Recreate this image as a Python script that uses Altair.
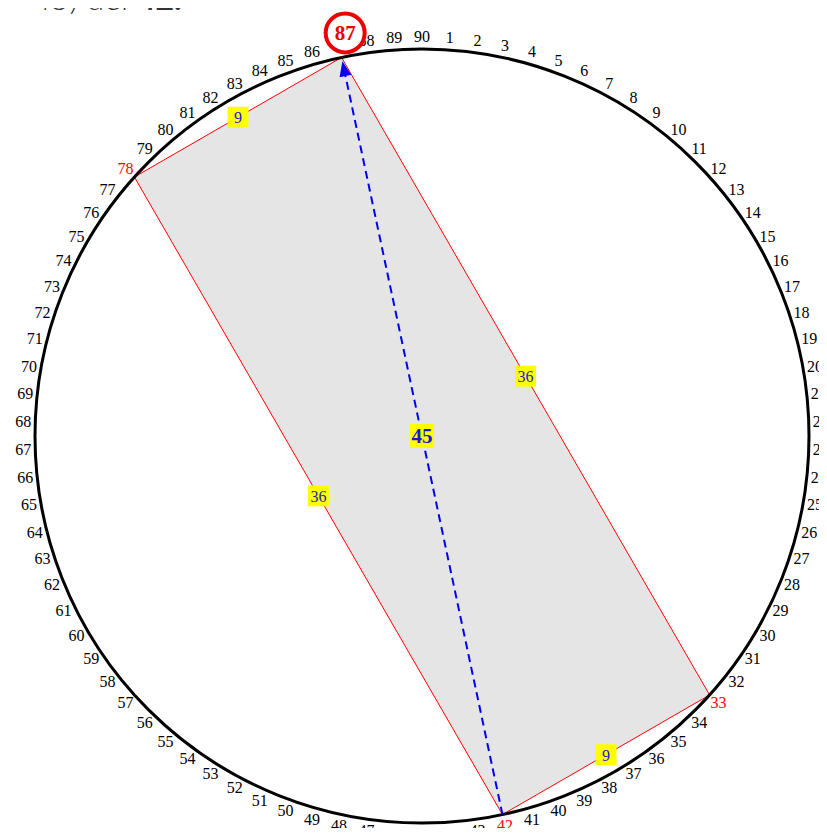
import math
import altair as alt
import pandas as pd

# ---------------- data ----------------
point_numbers = list(range(1, 91))          # numbers around the circle
red_points = [78, 33, 42]                    # numbers drawn in red
circled_point = 87                           # number inside the red ring
rect_vertices = [87, 33, 42, 78]             # grey rectangle corners (in order)
edge_from = [87, 87, 78, 42]
edge_to = [78, 33, 42, 33]
edge_values = ["9", "36", "36", "9"]
diag_from, diag_to = 42, 87
diag_value = "45"
caption_light = "+ 45) del"
caption_bold = "42."

# ---------------- geometry helpers ----------------
R = 387.0
N = len(point_numbers)


def pos(k, rad):
    a = math.radians((k - N) * 360.0 / N)
    return rad * math.sin(a), rad * math.cos(a)


XS = alt.Scale(domain=[-414, 397], nice=False, zero=False)
YS = alt.Scale(domain=[-392, 428], nice=False, zero=False)


def enc(**kw):
    return dict(x=alt.X("x:Q", scale=XS, axis=None), y=alt.Y("y:Q", scale=YS, axis=None), **kw)


# outer circle
circle_df = pd.DataFrame({"x": [0.0], "y": [0.0]})
circle = alt.Chart(circle_df).mark_point(
    shape="circle", size=(2 * R) ** 2, filled=False, stroke="black", strokeWidth=3, opacity=1
).encode(**enc())

# polygon
poly_rows = []
for i, k in enumerate(rect_vertices + [rect_vertices[0]]):
    x, y = pos(k, R)
    poly_rows.append({"x": x, "y": y, "o": i})
poly_df = pd.DataFrame(poly_rows)
poly_fill = alt.Chart(poly_df).mark_line(
    fill="#e5e5e5", stroke="#ff0000", strokeWidth=1
).encode(**enc(order="o:Q"))

# diagonal dashed line with arrow
x1, y1 = pos(diag_from, R)
x2, y2 = pos(diag_to, R - 14)
diag_df = pd.DataFrame({"x": [x1, x2], "y": [y1, y2], "o": [0, 1]})
diag = alt.Chart(diag_df).mark_line(
    stroke="#0000ee", strokeWidth=2, strokeDash=[8, 5]
).encode(**enc(order="o:Q"))
ax, ay = pos(diag_to, R - 11.5)
ang = ((diag_to - N) * 360.0 / N) % 360
arrow_df = pd.DataFrame({"x": [ax], "y": [ay]})
arrow = alt.Chart(arrow_df).mark_point(
    shape="M0,-1L0.8,1L-0.8,1Z", size=225, filled=True, fill="#0000ee", stroke=None,
    angle=ang, opacity=1
).encode(**enc())

# edge labels
edge_rows = []
for a, b, t in zip(edge_from, edge_to, edge_values):
    xa, ya = pos(a, R)
    xb, yb = pos(b, R)
    edge_rows.append({"x": (xa + xb) / 2, "y": (ya + yb) / 2, "t": t})
edge_df = pd.DataFrame(edge_rows)
edge_box = alt.Chart(edge_df).mark_point(
    shape="square", size=441, filled=True, fill="#ffff00", stroke=None, opacity=1
).encode(**enc())
edge_txt = alt.Chart(edge_df).mark_text(
    font="Liberation Serif", fontSize=16, color="#1a1acc", baseline="middle", align="center", dy=1
).encode(**enc(text="t:N"))

dx1, dy1 = pos(diag_from, R)
dx2, dy2 = pos(diag_to, R)
diag_lab_df = pd.DataFrame({"x": [(dx1 + dx2) / 2], "y": [(dy1 + dy2) / 2], "t": [diag_value]})
diag_box = alt.Chart(diag_lab_df).mark_point(
    shape="square", size=576, filled=True, fill="#ffff00", stroke=None, opacity=1
).encode(**enc())
diag_txt = alt.Chart(diag_lab_df).mark_text(
    font="Liberation Serif", fontSize=21, fontWeight="bold", color="#1a1acc",
    baseline="middle", align="center", dy=1
).encode(**enc(text="t:N"))

# number labels around circle
lab_rows = []
for k in point_numbers:
    if k == circled_point:
        continue
    x, y = pos(k, R + 12)
    lab_rows.append({"x": x, "y": y, "t": str(k), "c": "red" if k in red_points else "black"})
lab_df = pd.DataFrame(lab_rows)
labels = alt.Chart(lab_df).mark_text(
    font="Liberation Serif", fontSize=16, baseline="middle", align="center"
).encode(**enc(text="t:N", color=alt.Color("c:N", scale=None)))

# circled label
cx, cy = pos(circled_point, R + 21)
circ_df = pd.DataFrame({"x": [cx], "y": [cy], "t": [str(circled_point)]})
ring = alt.Chart(circ_df).mark_point(
    shape="circle", size=39 ** 2, filled=True, fill="white", stroke="#ee0000", strokeWidth=4, opacity=1,
    xOffset=8, yOffset=-4
).encode(**enc())
ring_txt = alt.Chart(circ_df).mark_text(
    font="Liberation Serif", fontSize=21, fontWeight="bold", color="#ee0000",
    baseline="middle", align="center", dx=8, dy=-3
).encode(**enc(text="t:N"))

# caption (clipped at top in the reference)
cap_df = pd.DataFrame({"x": [-294.0, -285.0], "y": [426.0, 426.0], "t": [caption_light, caption_bold]})
cap1 = alt.Chart(cap_df.iloc[[0]]).mark_text(
    font="Lato", fontSize=32, fontWeight=300, color="#333333", align="right", baseline="alphabetic"
).encode(**enc(text="t:N"))
cap2 = alt.Chart(cap_df.iloc[[1]]).mark_text(
    font="Lato", fontSize=32, fontWeight="bold", color="#333333", align="left", baseline="alphabetic"
).encode(**enc(text="t:N"))

chart = alt.layer(
    poly_fill, circle, diag, arrow, edge_box, edge_txt, diag_box, diag_txt,
    labels, ring, ring_txt, cap1, cap2
).properties(width=811, height=820, padding=0, autosize="none").configure_view(stroke=None)

chart.save("out.html", embed_options={"renderer": "svg", "actions": False})
